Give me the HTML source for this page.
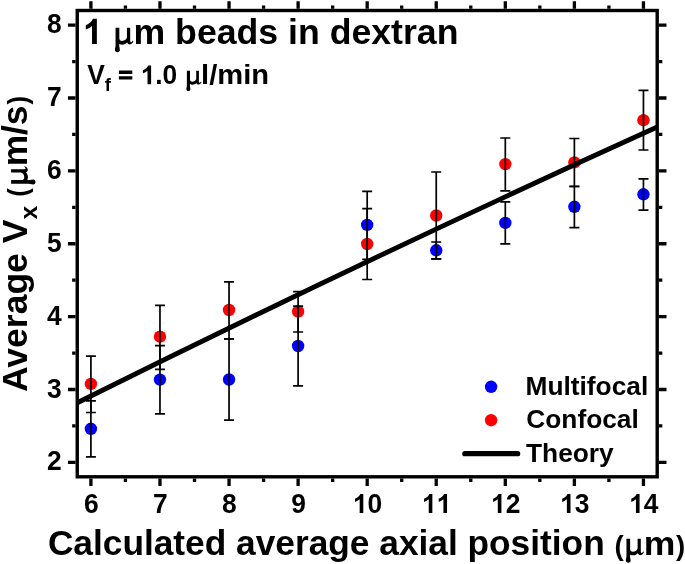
<!DOCTYPE html>
<html><head><meta charset="utf-8"><title>chart</title>
<style>
html,body{margin:0;padding:0;background:#fff;}
body{width:685px;height:564px;overflow:hidden;}
svg{display:block;will-change:transform;}
text{font-family:"Liberation Sans",sans-serif;font-weight:bold;fill:#000;}
</style></head><body>
<svg width="685" height="564" viewBox="0 0 685 564">
<rect width="685" height="564" fill="#fff"/>
<rect x="77.25" y="10.50" width="579.95" height="466.30" fill="none" stroke="#000" stroke-width="3.4"/>
<g stroke="#000" stroke-width="3.3" fill="none">
<path d="M90.90 8.80v-7.60M90.90 478.50v7.60"/>
<path d="M125.43 8.80v-3.40M125.43 478.50v3.40"/>
<path d="M159.97 8.80v-7.60M159.97 478.50v7.60"/>
<path d="M194.50 8.80v-3.40M194.50 478.50v3.40"/>
<path d="M229.04 8.80v-7.60M229.04 478.50v7.60"/>
<path d="M263.57 8.80v-3.40M263.57 478.50v3.40"/>
<path d="M298.11 8.80v-7.60M298.11 478.50v7.60"/>
<path d="M332.64 8.80v-3.40M332.64 478.50v3.40"/>
<path d="M367.18 8.80v-7.60M367.18 478.50v7.60"/>
<path d="M401.71 8.80v-3.40M401.71 478.50v3.40"/>
<path d="M436.24 8.80v-7.60M436.24 478.50v7.60"/>
<path d="M470.78 8.80v-3.40M470.78 478.50v3.40"/>
<path d="M505.31 8.80v-7.60M505.31 478.50v7.60"/>
<path d="M539.85 8.80v-3.40M539.85 478.50v3.40"/>
<path d="M574.38 8.80v-7.60M574.38 478.50v7.60"/>
<path d="M608.92 8.80v-3.40M608.92 478.50v3.40"/>
<path d="M643.45 8.80v-7.60M643.45 478.50v7.60"/>
<path d="M75.55 462.40h-7.60M658.90 462.40h7.60"/>
<path d="M75.55 425.96h-3.40M658.90 425.96h3.40"/>
<path d="M75.55 389.52h-7.60M658.90 389.52h7.60"/>
<path d="M75.55 353.07h-3.40M658.90 353.07h3.40"/>
<path d="M75.55 316.63h-7.60M658.90 316.63h7.60"/>
<path d="M75.55 280.19h-3.40M658.90 280.19h3.40"/>
<path d="M75.55 243.75h-7.60M658.90 243.75h7.60"/>
<path d="M75.55 207.31h-3.40M658.90 207.31h3.40"/>
<path d="M75.55 170.87h-7.60M658.90 170.87h7.60"/>
<path d="M75.55 134.43h-3.40M658.90 134.43h3.40"/>
<path d="M75.55 97.98h-7.60M658.90 97.98h7.60"/>
<path d="M75.55 61.54h-3.40M658.90 61.54h3.40"/>
<path d="M75.55 25.10h-7.60M658.90 25.10h7.60"/>
</g>
<g fill="#0000ff">
<circle cx="90.90" cy="428.8" r="6.2"/>
<circle cx="159.97" cy="379.6" r="6.2"/>
<circle cx="229.04" cy="379.5" r="6.2"/>
<circle cx="298.11" cy="346.0" r="6.2"/>
<circle cx="367.18" cy="224.9" r="6.2"/>
<circle cx="436.24" cy="250.3" r="6.2"/>
<circle cx="505.31" cy="222.9" r="6.2"/>
<circle cx="574.38" cy="206.8" r="6.2"/>
<circle cx="643.45" cy="194.3" r="6.2"/>
</g>
<g fill="#ff0000">
<circle cx="90.90" cy="383.9" r="6.2"/>
<circle cx="159.97" cy="336.7" r="6.2"/>
<circle cx="229.04" cy="310.0" r="6.2"/>
<circle cx="298.11" cy="311.5" r="6.2"/>
<circle cx="367.18" cy="244.0" r="6.2"/>
<circle cx="436.24" cy="215.5" r="6.2"/>
<circle cx="505.31" cy="164.1" r="6.2"/>
<circle cx="574.38" cy="162.4" r="6.2"/>
<circle cx="643.45" cy="120.2" r="6.2"/>
</g>
<g stroke="#000" stroke-width="1.7" fill="none">
<path d="M90.90 400.8V456.8M85.90 400.8h10.0M85.90 456.8h10.0"/>
<path d="M159.97 345.7V413.8M154.97 345.7h10.0M154.97 413.8h10.0"/>
<path d="M229.04 338.9V420.1M224.04 338.9h10.0M224.04 420.1h10.0"/>
<path d="M298.11 306.1V385.9M293.11 306.1h10.0M293.11 385.9h10.0"/>
<path d="M367.18 191.3V259.4M362.18 191.3h10.0M362.18 259.4h10.0"/>
<path d="M436.24 242.0V259.0M431.24 242.0h10.0M431.24 259.0h10.0"/>
<path d="M505.31 201.8V243.8M500.31 201.8h10.0M500.31 243.8h10.0"/>
<path d="M574.38 186.5V227.6M569.38 186.5h10.0M569.38 227.6h10.0"/>
<path d="M643.45 178.9V210.1M638.45 178.9h10.0M638.45 210.1h10.0"/>
<path d="M90.90 356.1V412.5M85.90 356.1h10.0M85.90 412.5h10.0"/>
<path d="M159.97 305.4V369.4M154.97 305.4h10.0M154.97 369.4h10.0"/>
<path d="M229.04 281.9V338.8M224.04 281.9h10.0M224.04 338.8h10.0"/>
<path d="M298.11 291.6V332.0M293.11 291.6h10.0M293.11 332.0h10.0"/>
<path d="M367.18 208.7V279.5M362.18 208.7h10.0M362.18 279.5h10.0"/>
<path d="M436.24 172.0V258.9M431.24 172.0h10.0M431.24 258.9h10.0"/>
<path d="M505.31 138.0V190.8M500.31 138.0h10.0M500.31 190.8h10.0"/>
<path d="M574.38 138.5V186.3M569.38 138.5h10.0M569.38 186.3h10.0"/>
<path d="M643.45 90.4V150.0M638.45 90.4h10.0M638.45 150.0h10.0"/>
</g>
<path d="M77.25 402.71Q367.23 258.40 657.20 127.10" stroke="#000" stroke-width="4.9" fill="none"/>
<text transform="translate(83.96,512.9) scale(1,1.045)" font-size="26.4">6</text>
<text transform="translate(153.03,512.9) scale(1,1.045)" font-size="26.4">7</text>
<text transform="translate(222.10,512.9) scale(1,1.045)" font-size="26.4">8</text>
<text transform="translate(291.17,512.9) scale(1,1.045)" font-size="26.4">9</text>
<path transform="translate(352.90,512.9) scale(0.01289,0.01289)" d="M806 0H525V-1059Q371 -915 162 -846V-1101Q272 -1137 401 -1237.5T578 -1472H806Z"/>
<text transform="translate(367.58,512.9) scale(1,1.045)" font-size="26.4">0</text>
<path transform="translate(421.97,512.9) scale(0.01289,0.01289)" d="M806 0H525V-1059Q371 -915 162 -846V-1101Q272 -1137 401 -1237.5T578 -1472H806Z"/>
<path transform="translate(436.64,512.9) scale(0.01289,0.01289)" d="M806 0H525V-1059Q371 -915 162 -846V-1101Q272 -1137 401 -1237.5T578 -1472H806Z"/>
<path transform="translate(491.03,512.9) scale(0.01289,0.01289)" d="M806 0H525V-1059Q371 -915 162 -846V-1101Q272 -1137 401 -1237.5T578 -1472H806Z"/>
<text transform="translate(505.71,512.9) scale(1,1.045)" font-size="26.4">2</text>
<path transform="translate(560.10,512.9) scale(0.01289,0.01289)" d="M806 0H525V-1059Q371 -915 162 -846V-1101Q272 -1137 401 -1237.5T578 -1472H806Z"/>
<text transform="translate(574.78,512.9) scale(1,1.045)" font-size="26.4">3</text>
<path transform="translate(629.17,512.9) scale(0.01289,0.01289)" d="M806 0H525V-1059Q371 -915 162 -846V-1101Q272 -1137 401 -1237.5T578 -1472H806Z"/>
<text transform="translate(643.85,512.9) scale(1,1.045)" font-size="26.4">4</text>
<text transform="translate(47.12,470.40) scale(1,1.045)" font-size="26.4">2</text>
<text transform="translate(47.12,397.52) scale(1,1.045)" font-size="26.4">3</text>
<text transform="translate(47.12,324.63) scale(1,1.045)" font-size="26.4">4</text>
<text transform="translate(47.12,251.75) scale(1,1.045)" font-size="26.4">5</text>
<text transform="translate(47.12,178.87) scale(1,1.045)" font-size="26.4">6</text>
<text transform="translate(47.12,105.98) scale(1,1.045)" font-size="26.4">7</text>
<text transform="translate(47.12,33.10) scale(1,1.045)" font-size="26.4">8</text>
<path transform="translate(83.00,44.1) scale(0.01719,0.01719)" d="M806 0H525V-1059Q371 -915 162 -846V-1101Q272 -1137 401 -1237.5T578 -1472H806Z"/>
<g transform="translate(115.7,44.0) scale(0.0725) translate(-215,-410)"><path d="M213,185 L265,185 L265,400 C265,420 262,432 265,448 C268,464 272,476 272,493 C272,511 257,524 238,524 C219,524 204,511 204,493 C204,476 208,464 211,448 C214,432 213,420 213,400 Z"/><path d="M258,312 C262,354 278,368 305,368 C335,368 358,352 370,322 L370,185 L415,185 L415,362 C415,382 422,389 431,385 C440,381 445,375 449,366 L459,373 C451,396 433,416 410,416 C391,416 379,406 374,390 C359,406 335,419 305,419 C280,419 262,410 250,399 Z"/></g>
<text x="133.5" y="44.1" font-size="35.6" textLength="325" lengthAdjust="spacingAndGlyphs">m beads in dextran</text>
<text transform="translate(87.2,84.3) scale(1,1.045)" font-size="26.4">V</text>
<text x="104.7" y="91.2" font-size="18.5">f</text>
<path d="M118.9 70.5h13.4v3.4h-13.4zM118.9 76.2h13.4v3.4h-13.4z"/>
<path transform="translate(140.80,84.3) scale(0.01279,0.01279)" d="M806 0H525V-1059Q371 -915 162 -846V-1101Q272 -1137 401 -1237.5T578 -1472H806Z"/>
<text transform="translate(155.2,84.3) scale(1,1.045)" font-size="26.4">.0</text>
<g transform="translate(187.0,84.2) scale(0.0595) translate(-215,-410)"><path d="M213,185 L265,185 L265,400 C265,420 262,432 265,448 C268,464 272,476 272,493 C272,511 257,524 238,524 C219,524 204,511 204,493 C204,476 208,464 211,448 C214,432 213,420 213,400 Z"/><path d="M258,312 C262,354 278,368 305,368 C335,368 358,352 370,322 L370,185 L415,185 L415,362 C415,382 422,389 431,385 C440,381 445,375 449,366 L459,373 C451,396 433,416 410,416 C391,416 379,406 374,390 C359,406 335,419 305,419 C280,419 262,410 250,399 Z"/></g>
<text x="201.1" y="84.2" font-size="27.6" textLength="68.0" lengthAdjust="spacingAndGlyphs">l/min</text>
<text x="47.9" y="554.8" font-size="35.2" textLength="556.8" lengthAdjust="spacingAndGlyphs">Calculated average axial position</text>
<text x="614.4" y="554.8" font-size="27.6">(</text>
<g transform="translate(626.6,554.7) scale(0.071) translate(-215,-410)"><path d="M213,185 L265,185 L265,400 C265,420 262,432 265,448 C268,464 272,476 272,493 C272,511 257,524 238,524 C219,524 204,511 204,493 C204,476 208,464 211,448 C214,432 213,420 213,400 Z"/><path d="M258,312 C262,354 278,368 305,368 C335,368 358,352 370,322 L370,185 L415,185 L415,362 C415,382 422,389 431,385 C440,381 445,375 449,366 L459,373 C451,396 433,416 410,416 C391,416 379,406 374,390 C359,406 335,419 305,419 C280,419 262,410 250,399 Z"/></g>
<text x="643.8" y="554.8" font-size="33" textLength="31.6" lengthAdjust="spacingAndGlyphs">m</text>
<text x="676.0" y="554.8" font-size="27.6">)</text>
<g transform="translate(27.3 391) rotate(-90)">
<text x="-1.0" y="0" font-size="35.4" textLength="172.4" lengthAdjust="spacingAndGlyphs">Average V</text>
<text x="171.6" y="9.7" font-size="23.5" textLength="13.6" lengthAdjust="spacingAndGlyphs">x</text>
<text x="194.2" y="0" font-size="27.6" textLength="8.6" lengthAdjust="spacingAndGlyphs">(</text>
<g transform="translate(207.3,0) scale(0.072) translate(-215,-410)"><path d="M213,185 L265,185 L265,400 C265,420 262,432 265,448 C268,464 272,476 272,493 C272,511 257,524 238,524 C219,524 204,511 204,493 C204,476 208,464 211,448 C214,432 213,420 213,400 Z"/><path d="M258,312 C262,354 278,368 305,368 C335,368 358,352 370,322 L370,185 L415,185 L415,362 C415,382 422,389 431,385 C440,381 445,375 449,366 L459,373 C451,396 433,416 410,416 C391,416 379,406 374,390 C359,406 335,419 305,419 C280,419 262,410 250,399 Z"/></g>
<text x="224.7" y="0" font-size="34.8" textLength="60.8" lengthAdjust="spacingAndGlyphs">m/s</text>
<text x="286.6" y="0" font-size="27.6" textLength="8.6" lengthAdjust="spacingAndGlyphs">)</text>
</g>
<circle cx="491.1" cy="386.8" r="6.2" fill="#0000ff"/>
<circle cx="491.1" cy="420.2" r="6.2" fill="#ff0000"/>
<line x1="464.8" y1="453.7" x2="517.7" y2="453.7" stroke="#000" stroke-width="5.2" stroke-linecap="round"/>
<text x="525.5" y="395.1" font-size="26.3">Multifocal</text>
<text x="526.3" y="428.4" font-size="26.3">Confocal</text>
<text x="526.0" y="461.7" font-size="26.3">Theory</text>
</svg>
</body></html>
